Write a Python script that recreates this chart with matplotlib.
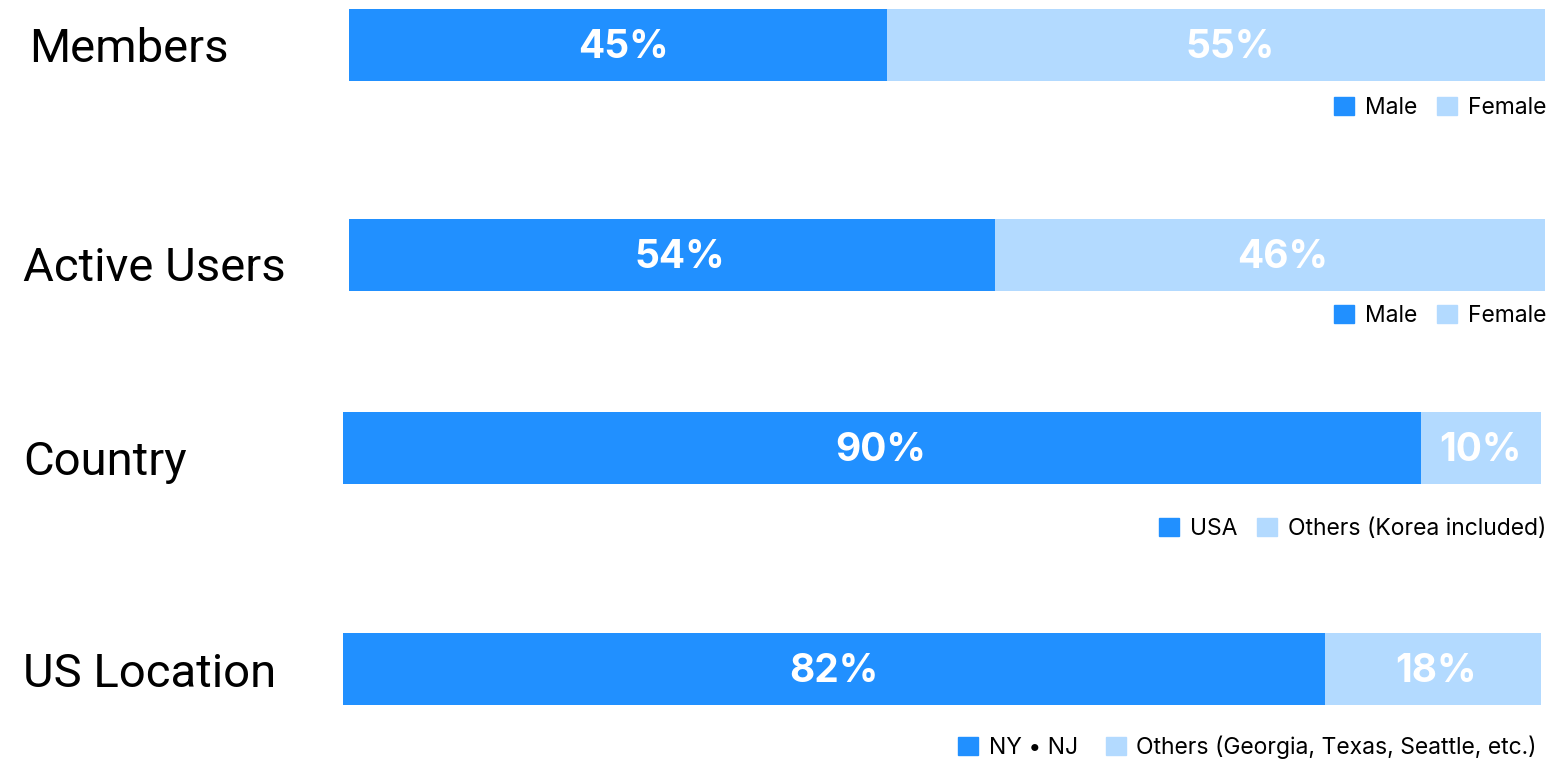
import matplotlib.pyplot as plt
from matplotlib.patches import Patch

plt.rcParams['font.family'] = ['Inter', 'DejaVu Sans']

W, H = 1549, 761

categories = ['Members', 'Active Users', 'Country', 'US Location']
first_share = [45, 54, 90, 82]
second_share = [55, 46, 10, 18]
legend_labels = [
    ('Male', 'Female'),
    ('Male', 'Female'),
    ('USA', 'Others (Korea included)'),
    ('NY \u2022 NJ', 'Others (Georgia, Texas, Seattle, etc.)'),
]

dark = '#2190FF'
light = '#B3DAFF'

# pixel layout: bar box (left, right, top, bottom), label x / baseline, legend right / center
bar_boxes = [(349, 1545, 9, 81), (349, 1545, 219, 291),
             (343, 1541, 412, 484), (343, 1541, 633, 705)]
label_pos = [(29, 62), (23, 281), (23, 475), (23, 687)]
legend_pos = [(1546, 108), (1546, 316), (1546, 529), (1537, 747)]
legend_gap = [0.85, 0.85, 0.85, 1.2]
# small horizontal nudges (px) of the percent labels
pct_nudge = [(5, 14), (8, 13), (-1, -1), (0, 3)]

fig = plt.figure(figsize=(W / 100, H / 100), dpi=100)

for i, cat in enumerate(categories):
    l, r, t, b = bar_boxes[i]
    ax = fig.add_axes([l / W, 1 - b / H, (r - l) / W, (b - t) / H])
    ax.barh(0, first_share[i], height=1, color=dark)
    ax.barh(0, second_share[i], left=first_share[i], height=1, color=light)
    ax.set_xlim(0, 100)
    ax.set_ylim(-0.5, 0.5)
    ax.axis('off')

    segs = [(0, first_share[i]), (first_share[i], second_share[i])]
    for (left, v), dx in zip(segs, pct_nudge[i]):
        ax.annotate(f'{v}%', (left + v / 2, -0.18), xytext=(dx * 0.72, 0),
                    textcoords='offset points', ha='center', va='baseline',
                    color='white', fontsize=28, fontweight='bold')

    lx, ly = label_pos[i]
    fig.text(lx / W, 1 - ly / H, cat, ha='left', va='baseline',
             fontsize=34, color='black', family=['Roboto', 'DejaVu Sans'])

    rx, cy = legend_pos[i]
    handles = [Patch(color=dark, label=legend_labels[i][0]),
               Patch(color=light, label=legend_labels[i][1])]
    fig.legend(handles=handles, loc='center right',
               bbox_to_anchor=(rx / W, 1 - cy / H), ncol=2, frameon=False,
               fontsize=16.5, handlelength=0.87, handleheight=0.87,
               handletextpad=0.48, columnspacing=legend_gap[i],
               borderpad=0, borderaxespad=0)

fig.savefig('out.png', dpi=100)
